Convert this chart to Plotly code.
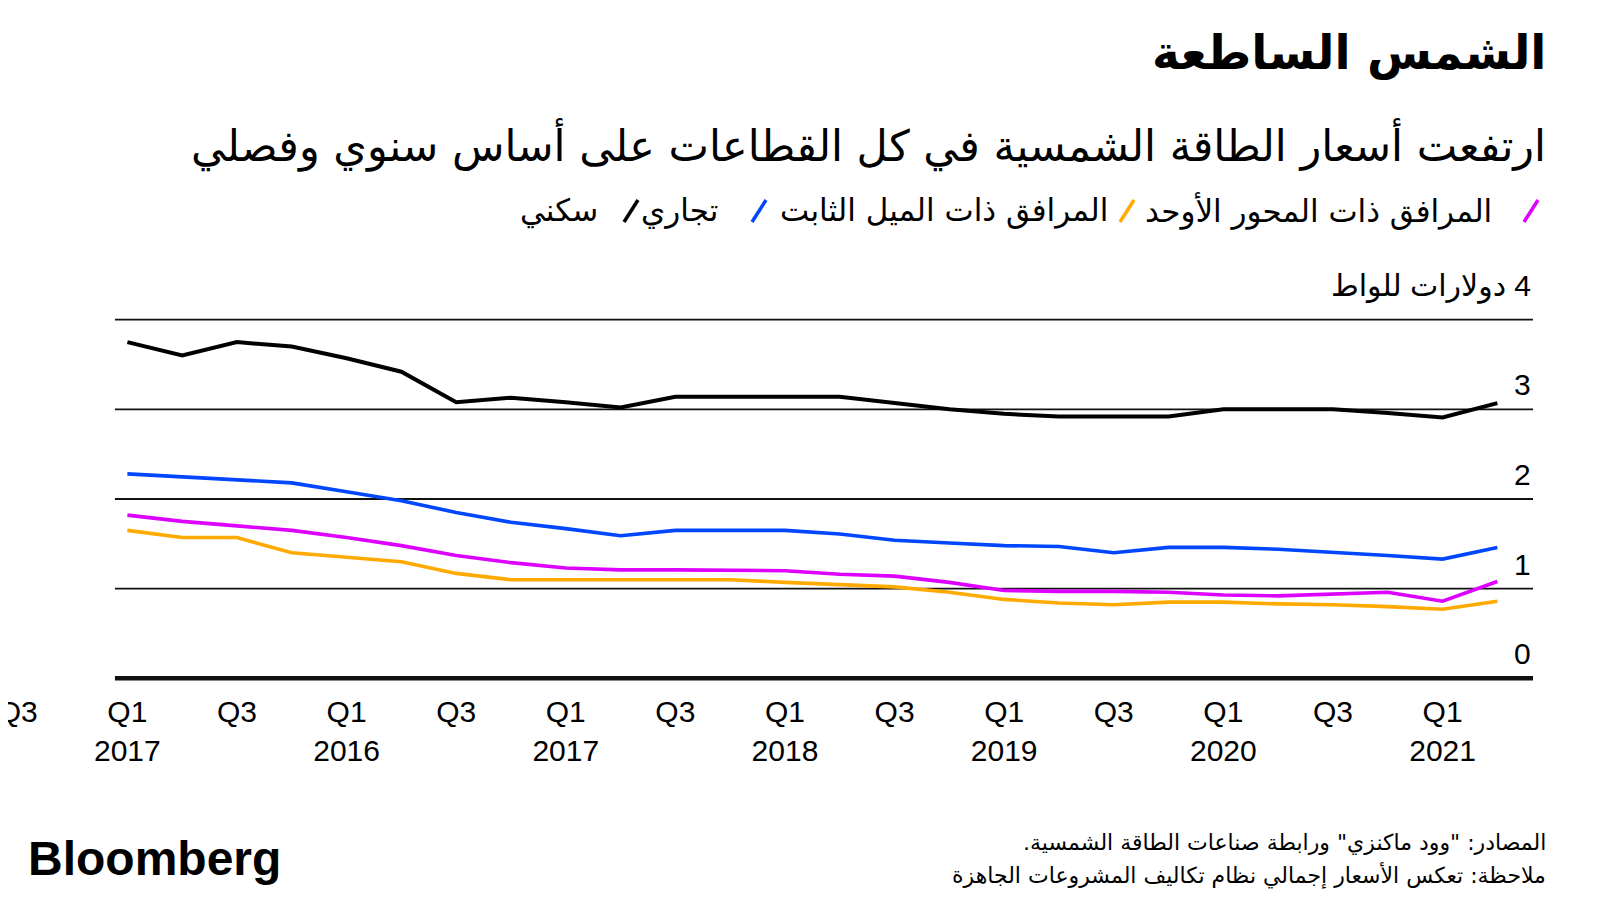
import plotly.graph_objects as go

# quarter index 0 = first Q1 on the axis, 25 = last point (Q2 of the last year)
quarters = list(range(26))
residential = [3.75, 3.60, 3.75, 3.70, 3.57, 3.42, 3.08, 3.13, 3.08, 3.02, 3.14, 3.14, 3.14,
               3.14, 3.07, 3.00, 2.95, 2.92, 2.92, 2.92, 3.00, 3.00, 3.00, 2.96, 2.91, 3.07]
commercial = [2.28, 2.25, 2.22, 2.18, 2.08, 1.98, 1.85, 1.74, 1.67, 1.59, 1.65, 1.65, 1.65,
              1.61, 1.54, 1.51, 1.48, 1.47, 1.40, 1.46, 1.46, 1.44, 1.41, 1.37, 1.33, 1.46]
single_axis = [1.82, 1.75, 1.70, 1.65, 1.57, 1.48, 1.37, 1.29, 1.23, 1.21, 1.21, 1.20, 1.20,
               1.16, 1.14, 1.07, 0.98, 0.97, 0.97, 0.96, 0.93, 0.92, 0.94, 0.96, 0.86, 1.08]
fixed_tilt = [1.65, 1.57, 1.57, 1.40, 1.35, 1.30, 1.17, 1.10, 1.10, 1.10, 1.10, 1.10, 1.07,
              1.05, 1.02, 0.96, 0.88, 0.84, 0.82, 0.85, 0.85, 0.83, 0.82, 0.80, 0.77, 0.86]

tick_vals = [-2, 0, 2, 4, 6, 8, 10, 12, 14, 16, 18, 20, 22, 24]
tick_text = ["Q3", "Q1<br>2017", "Q3", "Q1<br>2016", "Q3", "Q1<br>2017", "Q3", "Q1<br>2018",
             "Q3", "Q1<br>2019", "Q3", "Q1<br>2020", "Q3", "Q1<br>2021"]
y_ticks = [0, 1, 2, 3, 4]
unit = "دولارات للواط"

series_names = ["المرافق ذات المحور الأوحد", "المرافق ذات الميل الثابت", "تجاري", "سكني"]
series_data = [single_axis, fixed_tilt, commercial, residential]
colors = ["#dd00ff", "#ffaa00", "#0047ff", "#000000"]

title = "الشمس الساطعة"
subtitle = "ارتفعت أسعار الطاقة الشمسية في كل القطاعات على أساس سنوي وفصلي"
source = "المصادر: \"وود ماكنزي\" ورابطة صناعات الطاقة الشمسية.\u200f"
note = "ملاحظة: تعكس الأسعار إجمالي نظام تكاليف المشروعات الجاهزة"

AR = "DejaVu Sans"
LAT = "Liberation Sans, Arial, DejaVu Sans"

# page body has an 8px margin, so the figure is 8px smaller and everything
# below is given in window pixels and shifted back
OFF = 8
W, H = 1600 - OFF, 900 - OFF
L, R, T, B = 0, 67, 309, 219
PW, PH = W - L - R, H - T - B
x_lo, x_hi = -0.227, 25.65


def px(x):
    return (x - OFF - L) / PW


def py(y):
    return (H - B - (y - OFF)) / PH


fig = go.Figure()
# black first so the colours sit on top
for name, ys, c in reversed(list(zip(series_names, series_data, colors))):
    fig.add_trace(go.Scatter(x=quarters, y=ys, mode="lines", name=name,
                             line=dict(color=c, width=4 if c == "#000000" else 3.6),
                             showlegend=False, hoverinfo="skip"))

shapes = []
for v in y_ticks:
    shapes.append(dict(type="line", xref="x", yref="y", x0=x_lo, x1=x_hi, y0=v, y1=v,
                       line=dict(color="#111", width=4.5 if v == 0 else 1.8), layer="below"))

annotations = []
for v in y_ticks:
    txt = f"\u200f{v} {unit}" if v == y_ticks[-1] else str(v)
    annotations.append(dict(x=x_hi, y=v, xref="x", yref="y", text=txt, showarrow=False,
                            xanchor="right", yanchor="bottom",
                            yshift=14 if v == y_ticks[-1] else 6,
                            font=dict(family=LAT, size=30, color="#000")))

# legend, right to left: coloured slash then label
slash_x = [1531, 1127, 759, 631]
label_right = [1494, 1110, 720, 600]
for name, c, sx, lx in zip(series_names, colors, slash_x, label_right):
    shapes.append(dict(type="line", xref="paper", yref="paper",
                       x0=px(sx - 7), x1=px(sx + 7), y0=py(222), y1=py(200),
                       line=dict(color=c, width=3.5)))
    annotations.append(dict(x=px(lx), y=py(211), xref="paper", yref="paper", text=name,
                            showarrow=False, xanchor="right", yanchor="middle",
                            font=dict(family=AR, size=31, color="#000")))

annotations += [
    dict(x=px(1548), y=py(53), xref="paper", yref="paper", text=f"<b>{title}</b>",
         showarrow=False, xanchor="right", yanchor="middle",
         font=dict(family=AR, size=47, color="#000")),
    dict(x=px(1548), y=py(145), xref="paper", yref="paper", text=subtitle,
         showarrow=False, xanchor="right", yanchor="middle",
         font=dict(family=AR, size=43, color="#000")),
    dict(x=px(1548), y=py(842), xref="paper", yref="paper", text=source,
         showarrow=False, xanchor="right", yanchor="middle",
         font=dict(family=AR, size=22, color="#000")),
    dict(x=px(1548), y=py(875), xref="paper", yref="paper", text=note,
         showarrow=False, xanchor="right", yanchor="middle",
         font=dict(family=AR, size=22, color="#000")),
    dict(x=px(26), y=py(858), xref="paper", yref="paper", text="<b>Bloomberg</b>",
         showarrow=False, xanchor="left", yanchor="middle",
         font=dict(family=LAT, size=48, color="#000")),
]

fig.update_layout(
    width=W, height=H,
    margin=dict(l=L, r=R, t=T, b=B, autoexpand=False),
    paper_bgcolor="white", plot_bgcolor="white",
    shapes=shapes, annotations=annotations,
    xaxis=dict(range=[x_hi - PW / 54.8, x_hi], tickvals=tick_vals, ticktext=tick_text,
               showgrid=False, zeroline=False, showline=False, ticks="",
               automargin=False,
               ticklabelstandoff=10, ticklabeloverflow="allow",
               tickfont=dict(family=LAT, size=30, color="#000")),
    yaxis=dict(range=[-0.03, 4.03], showgrid=False, zeroline=False, showline=False,
               showticklabels=False, ticks="", automargin=False),
)

fig.write_html("out.html")
